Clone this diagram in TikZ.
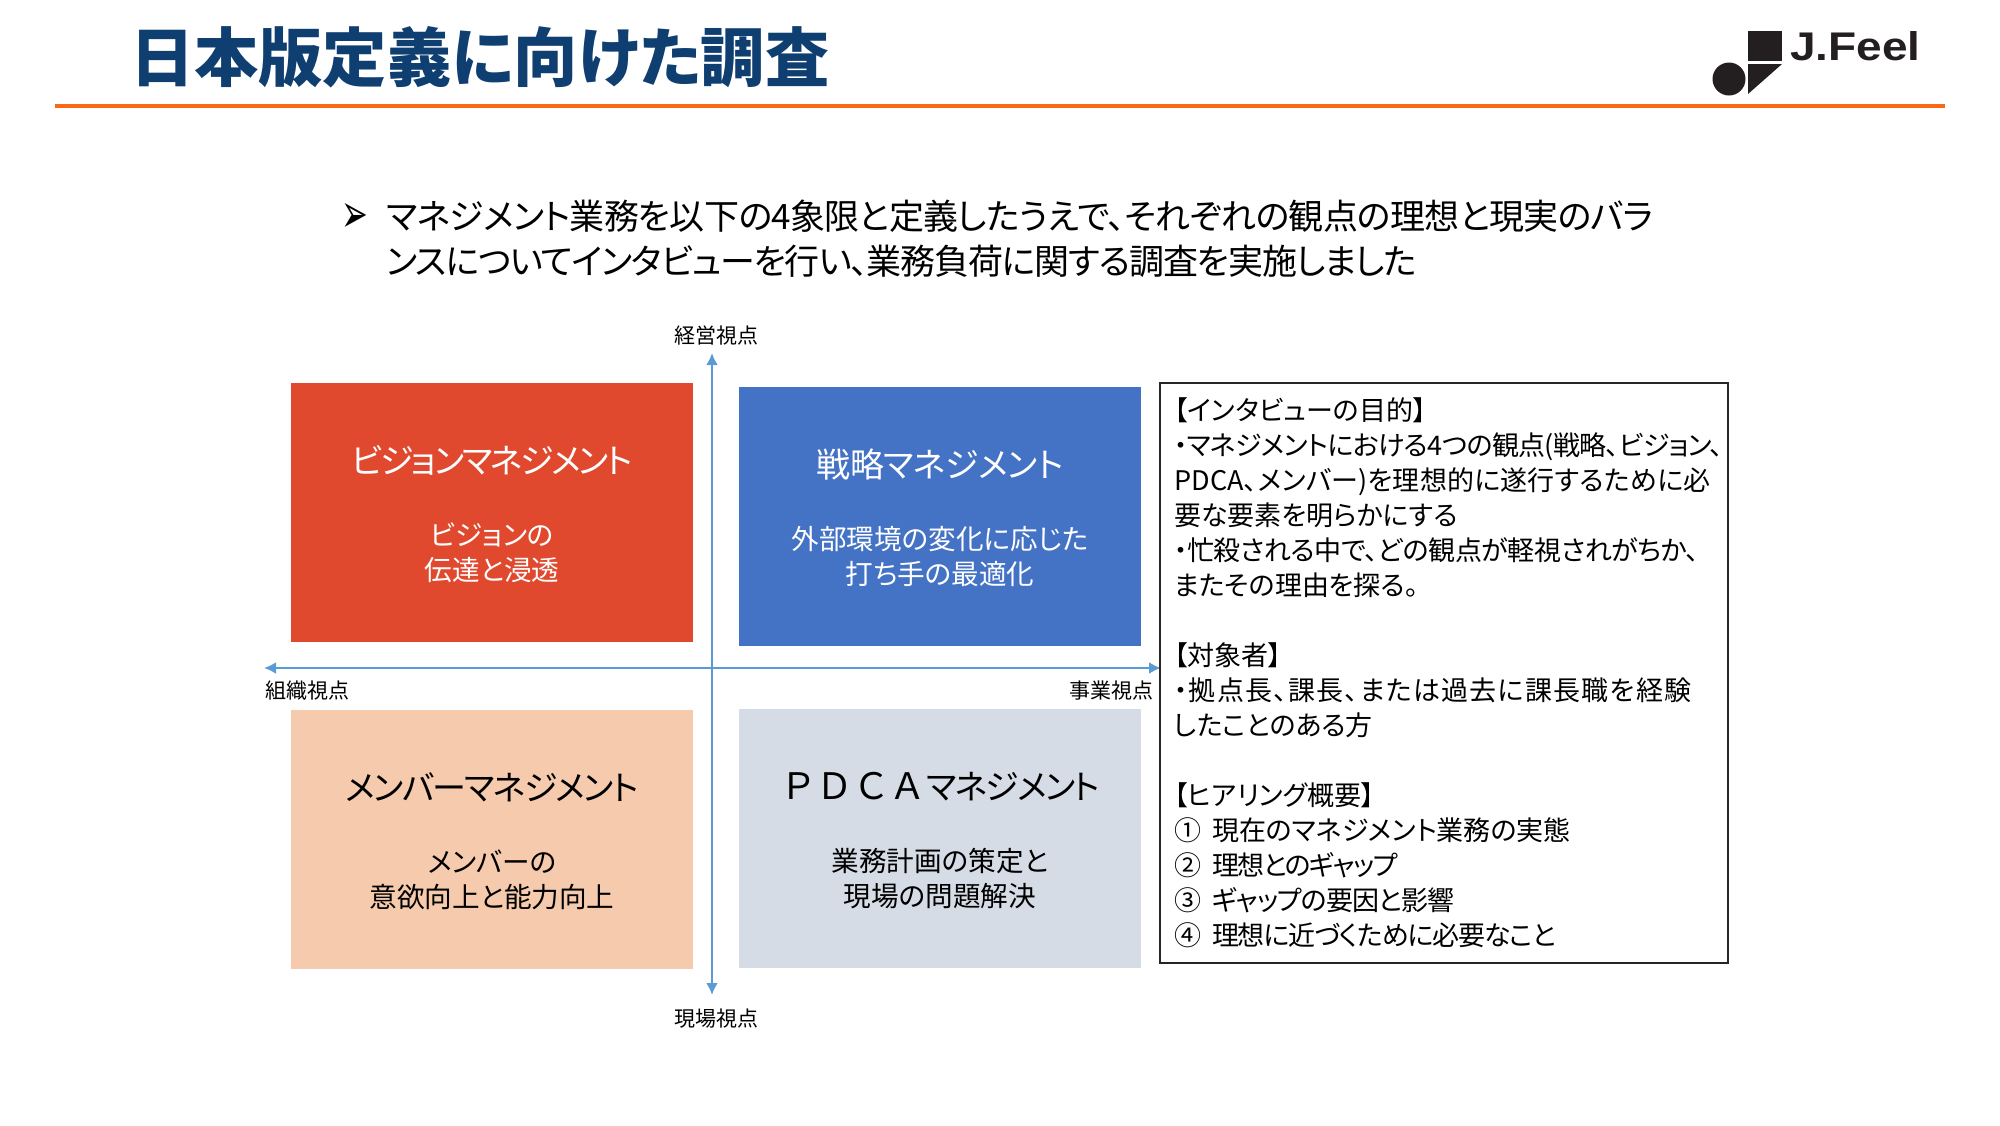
\documentclass[tikz,border=0pt]{standalone}
\usepackage{fontspec}
\usetikzlibrary{arrows.meta}
\setmainfont{Noto Sans CJK JP}[RawFeature=+palt]
\newfontfamily\fullfont{Noto Sans CJK JP}
\newfontfamily\logofont{Liberation Sans}[FakeStretch=1.15]
\newfontfamily\markfont{DejaVu Sans}
\definecolor{titleblue}{HTML}{0F3E70}
\definecolor{ruleorange}{HTML}{F96A12}
\definecolor{axisblue}{HTML}{5B9BD5}
\definecolor{logoblack}{HTML}{231F20}
\definecolor{quadred}{HTML}{E0492E}
\definecolor{quadblue}{HTML}{4472C4}
\definecolor{quadpeach}{HTML}{F6CAAC}
\definecolor{quadgray}{HTML}{D6DCE5}
\newcommand{\tight}[2]{{\addfontfeature{LetterSpace=#1}#2}}
\newcommand{\quadhead}[2]{\rule{0pt}{32pt}{\fontsize{34}{44}\selectfont\tight{#1}{#2}}\\[37pt]}
\begin{document}
\begin{tikzpicture}[
    x=1pt, y=-1pt,
    quad/.style={rectangle, inner sep=0pt, minimum width=402pt, minimum height=259pt, align=center, font=\fontsize{27.6}{35}\selectfont},
    axis/.style={{Latex[length=12pt,width=12pt]}-{Latex[length=12pt,width=12pt]}, axisblue, line width=2.5pt},
    axislabel/.style={inner sep=0pt, font=\fontsize{21}{24}\selectfont},
    info/.style={rectangle, draw=black!85, line width=1.5pt, inner xsep=14pt, inner ysep=0pt, minimum height=580pt, text width=540pt, align=left, font=\fontsize{27}{35}\selectfont}
]
\useasboundingbox (0,0) rectangle (2000,1125);

% Header
\node[inner sep=0pt, anchor=west, text=titleblue, font=\fontsize{64.2}{70}\selectfont\bfseries] (title) at (130,57) {日本版定義に向けた調査};
\coordinate (ruleL) at (55,106);
\coordinate (ruleR) at (1945,106);
\draw[ruleorange, line width=4pt] (ruleL) -- (ruleR);

% Logo
\fill[logoblack] (1748,31) rectangle (1782,61);
\fill[logoblack] (1748,64) -- (1782,64) -- (1748,94) -- cycle;
\fill[logoblack] (1729,79) circle (16.5);
\node[inner sep=0pt, anchor=west, text=logoblack, font=\logofont\fontsize{40}{44}\selectfont\bfseries] (logo) at (1790,46) {J.Feel};

% Lead text
\node[inner sep=0pt, font=\markfont\fontsize{32}{36}\selectfont] (mark) at (355,218) {\scalebox{1}[1.7]{➢}};
\node[inner sep=0pt, anchor=north west, align=left, font=\fontsize{35}{45}\selectfont] (lead) at (386,200) {\tight{-2}{マネジメント業務を以下の4象限と定義したうえで、それぞれの観点の理想と現実のバラ}\\\tight{-3.3}{ンスについてインタビューを行い、業務負荷に関する調査を実施しました}};

% Quadrants
\node[quad, fill=quadred, text=white] (vision) at (492,512.5) {\quadhead{-6.8}{ビジョンマネジメント}ビジョンの\\伝達と浸透};
\node[quad, fill=quadblue, text=white] (strategy) at (940,516.5) {\quadhead{-1.5}{戦略マネジメント}外部環境の変化に応じた\\打ち手の最適化};
\node[quad, fill=quadpeach] (member) at (492,839) {\quadhead{-5}{メンバーマネジメント}メンバーの\\意欲向上と能力向上};
\node[quad, fill=quadgray] (pdca) at (940,838.5) {\quadhead{-5}{{\fullfont\fontsize{36.5}{44}\selectfont ＰＤＣＡ}マネジメント}業務計画の策定と\\現場の問題解決};

% Axes
\coordinate (axisT) at (712,353);
\coordinate (axisB) at (712,995);
\coordinate (axisL) at (264,668);
\coordinate (axisR) at (1161,668);
\draw[axis] (axisB) -- (axisT);
\draw[axis] (axisL) -- (axisR);
\node[axislabel] (top) at (716,336) {経営視点};
\node[axislabel] (bottom) at (716,1019) {現場視点};
\node[axislabel, anchor=west] (left) at (265,691) {組織視点};
\node[axislabel, anchor=east] (right) at (1153.5,691) {事業視点};

% Interview box
\node[info] (interview) at (1444,673) {【インタビューの目的】\\
\tight{-2.4}{・マネジメントにおける4つの観点(戦略、ビジョン、}\\
\tight{0.8}{PDCA、メンバー)を理想的に遂行するために必}\\
要な要素を明らかにする\\
\tight{-1.3}{・忙殺される中で、どの観点が軽視されがちか、}\\
またその理由を探る。\\
~\\
【対象者】\\
\tight{4.8}{・拠点長、課長、または過去に課長職を経験}\\
したことのある方\\
~\\
【ヒアリング概要】\\
①\hspace{11pt}現在のマネジメント業務の実態\\
②\hspace{11pt}\tight{-6}{理想とのギャップ}\\
③\hspace{11pt}\tight{-3.7}{ギャップの要因と影響}\\
④\hspace{11pt}\tight{-4}{理想に近づくために必要なこと}};

\end{tikzpicture}
\end{document}
